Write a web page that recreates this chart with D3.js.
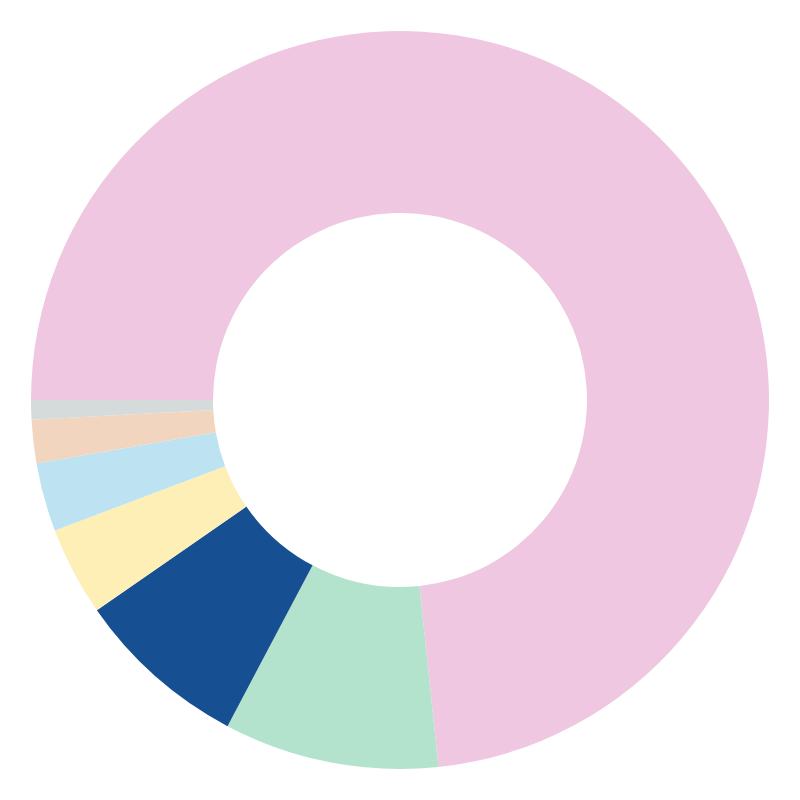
<!DOCTYPE html>
<html>
<head>
<meta charset="utf-8">
<script src="https://cdn.jsdelivr.net/npm/d3@7.9.0/dist/d3.min.js"></script>
<style>
  html, body { margin: 0; padding: 0; background: #fff; }
  svg { display: block; }
</style>
</head>
<body>
<svg id="chart" width="800" height="800"></svg>
<script>
// slice data (share of total, %)
let categories = ['A', 'B', 'C', 'D', 'E', 'F', 'G'];
let values = [73.3, 9.4, 7.6, 3.9, 3.0, 1.9, 0.85];
let sliceColors = ['#efc7e1', '#b3e3cd', '#175092', '#feefb6', '#bde2f2', '#f2d5bf', '#d5dadb'];

let width = 800;
let height = 800;
let outerR = 369;
let innerR = 187;

let data = categories.map((c, i) => ({ label: c, value: values[i] }));

let color = d3.scaleOrdinal()
  .domain(categories)
  .range(sliceColors);

let svg = d3.select('#chart');
let g = svg.append('g')
  .attr('transform', `translate(${width / 2},${height / 2})`);

// start at 9 o'clock, go clockwise
let pie = d3.pie()
  .value(d => d.value)
  .sort(null)
  .startAngle(-Math.PI / 2)
  .endAngle(Math.PI * 1.5);

let arc = d3.arc()
  .innerRadius(innerR)
  .outerRadius(outerR);

g.selectAll('path')
  .data(pie(data))
  .join('path')
  .attr('d', arc)
  .attr('fill', d => color(d.data.label));
</script>
</body>
</html>
